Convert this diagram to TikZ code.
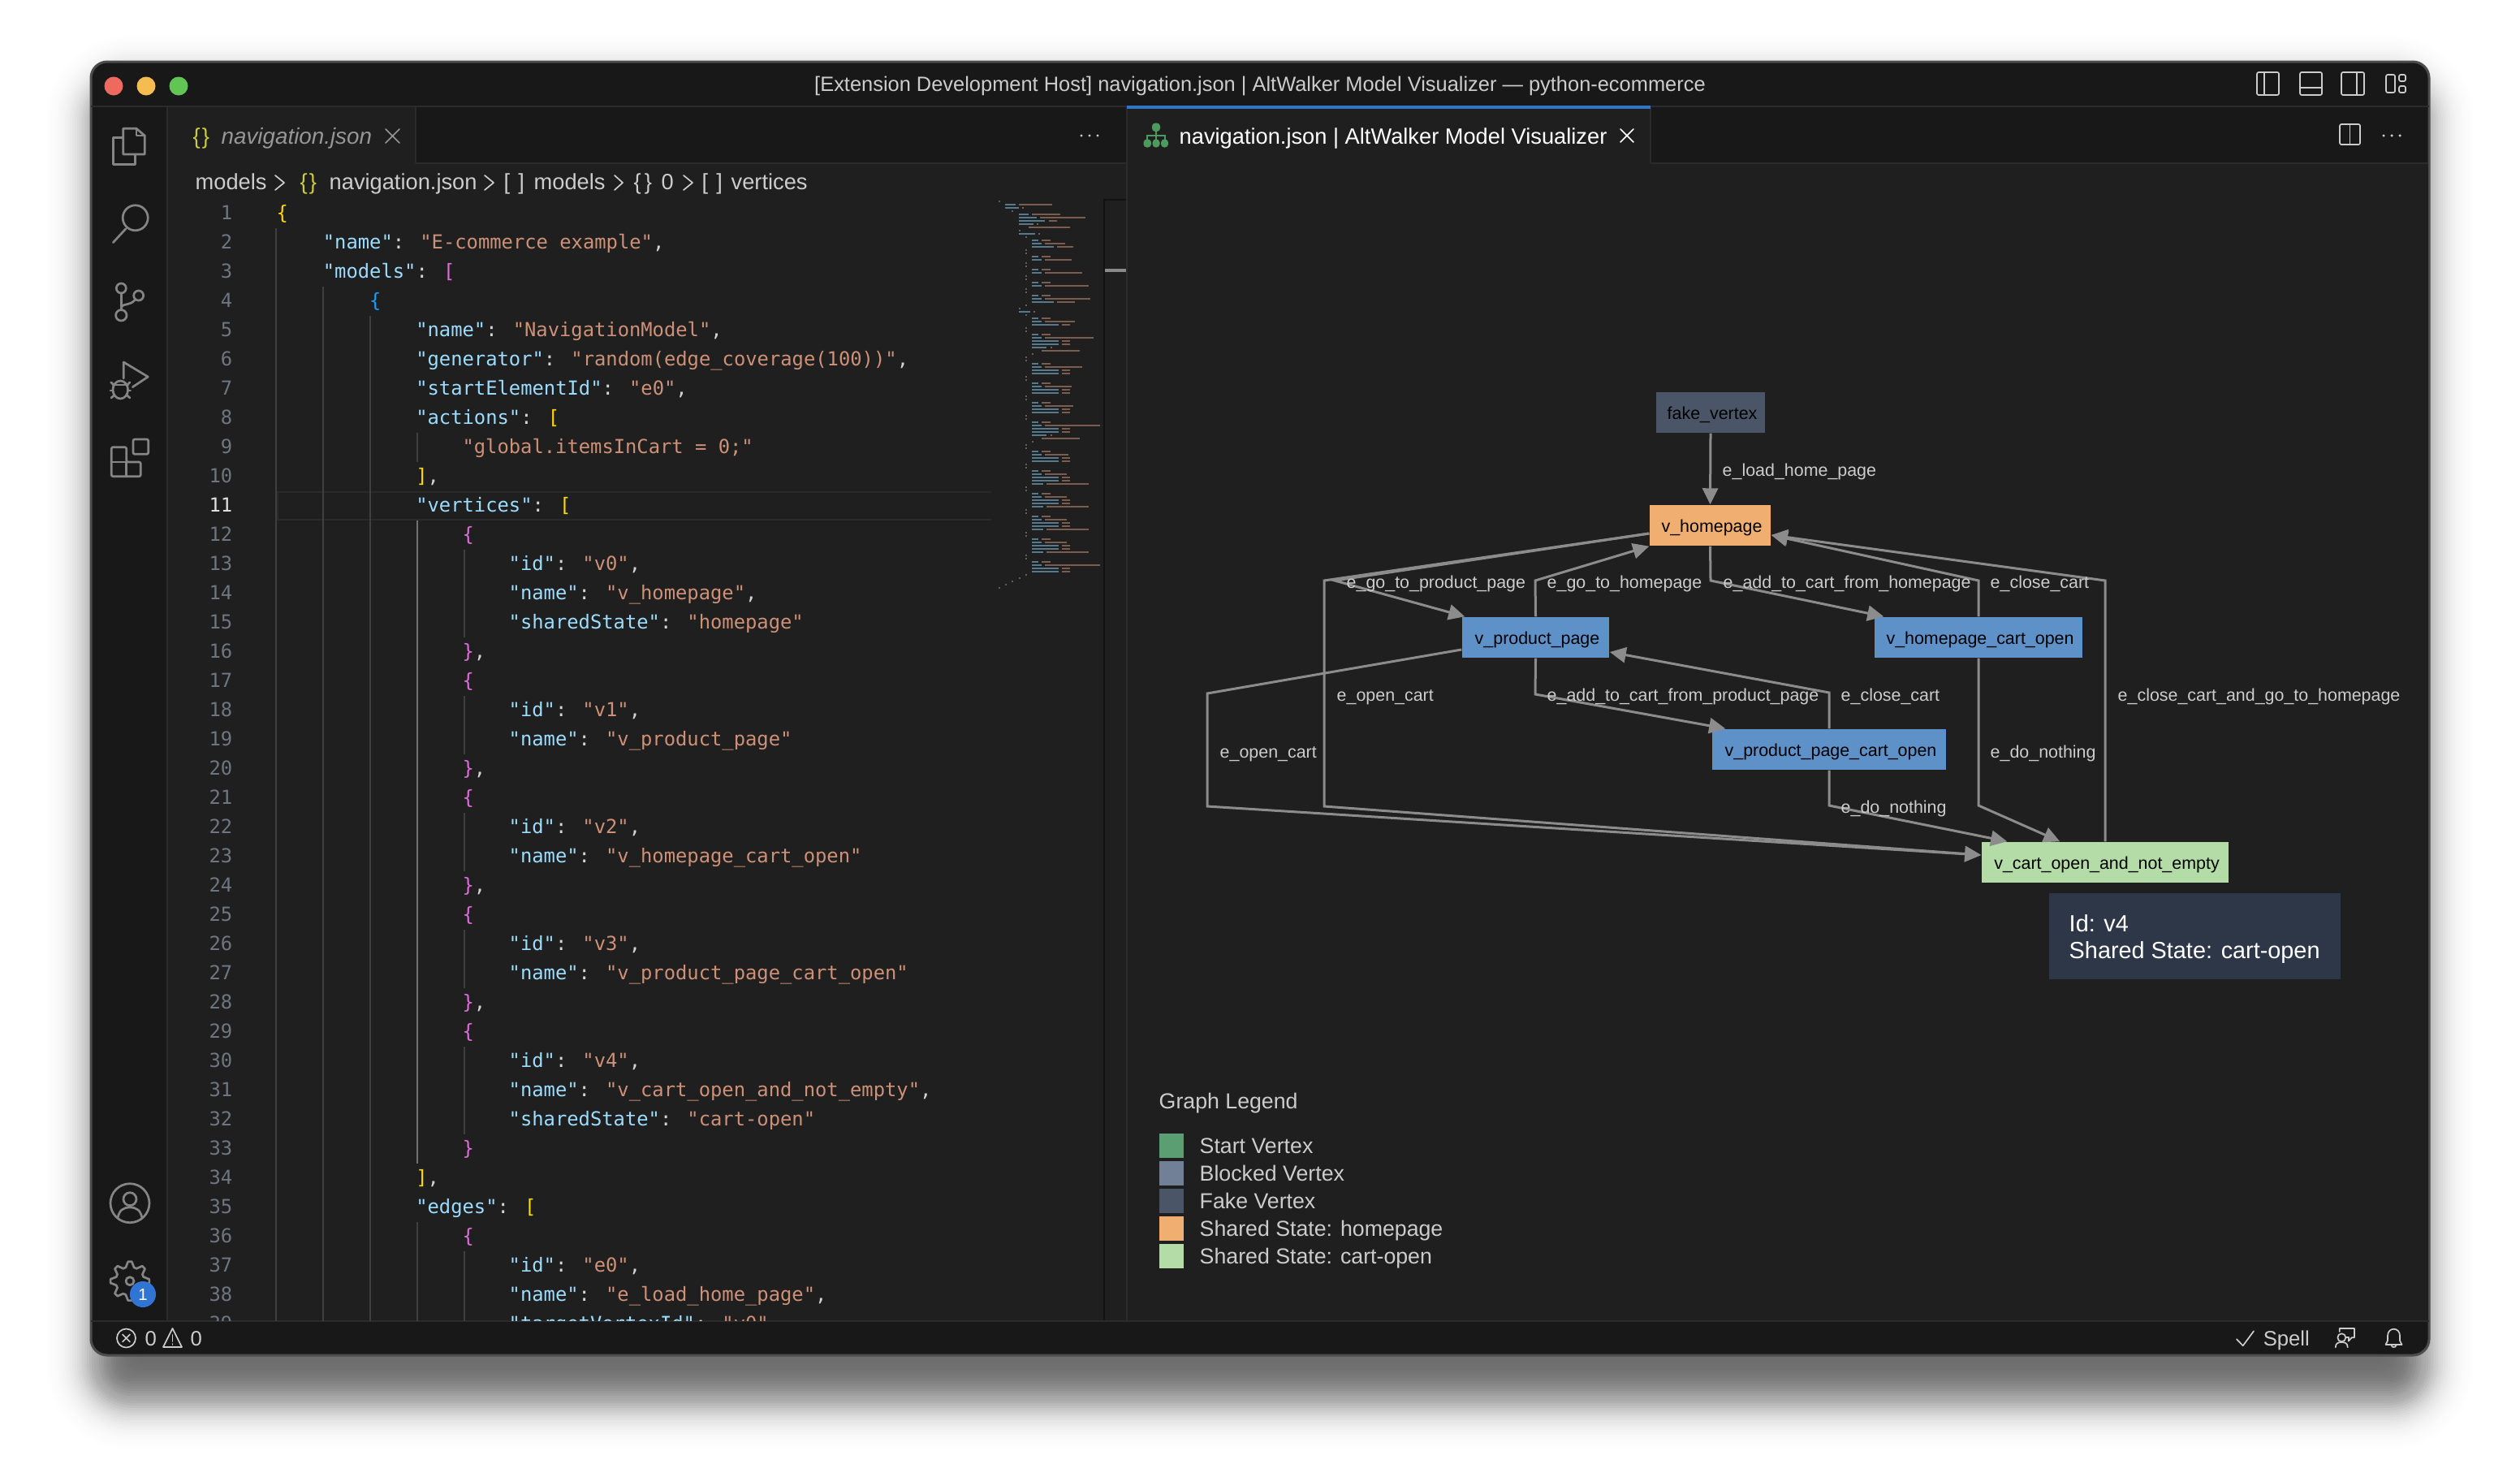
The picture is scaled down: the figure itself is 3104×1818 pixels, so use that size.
\documentclass[tikz,border=0pt]{standalone}
\usepackage{fontspec}
\setmainfont{Liberation Sans}
\newfontfamily\codefont{DejaVu Sans Mono}
\usetikzlibrary{arrows.meta,calc}
\definecolor{winbg}{HTML}{181818}
\definecolor{edbg}{HTML}{1F1F1F}
\definecolor{sepc}{HTML}{2B2B2B}
\definecolor{jkey}{HTML}{9CDCFE}
\definecolor{jstr}{HTML}{CE9178}
\definecolor{jpun}{HTML}{D4D4D4}
\definecolor{bgold}{HTML}{FFD700}
\definecolor{bpur}{HTML}{DA70D6}
\definecolor{bblu}{HTML}{179FFF}
\definecolor{lnum}{HTML}{6E7681}
\definecolor{uitxt}{HTML}{CCCCCC}
\definecolor{icong}{HTML}{858585}
\definecolor{edgec}{HTML}{8C8C8C}
\definecolor{yel}{HTML}{CBCB41}
\definecolor{nOrange}{HTML}{F0AF70}
\definecolor{nBlue}{HTML}{5F91C9}
\definecolor{nGreen}{HTML}{B3DCA6}
\definecolor{nFakeC}{HTML}{4A5568}
\definecolor{nStart}{HTML}{5A9E72}
\definecolor{nBlock}{HTML}{718096}
\definecolor{tipbg}{HTML}{2D3748}
\definecolor{cTabLine}{HTML}{2F75C9}
\definecolor{cRed}{HTML}{EE6A5F}
\definecolor{cAmb}{HTML}{F5BD4F}
\definecolor{cGrn}{HTML}{61C454}
\definecolor{cBadge}{HTML}{3075D4}
\definecolor{cTab}{HTML}{969696}
\definecolor{cTree}{HTML}{4C9A5E}
\definecolor{cHL}{HTML}{2A2A2A}
\definecolor{cG1}{HTML}{3F3F3F}
\definecolor{cG2}{HTML}{707070}
\definecolor{cNum}{HTML}{E0E0E0}
\definecolor{cBr}{HTML}{5E5E5E}
\definecolor{cMK}{HTML}{557A8E}
\definecolor{cMV}{HTML}{7A5D4E}
\definecolor{cDark}{HTML}{121212}
\definecolor{cThumb}{HTML}{8A8A8A}
\newcommand\jk[1]{{\color{jkey}#1}}
\newcommand\js[1]{{\color{jstr}#1}}
\newcommand\jp[1]{{\color{jpun}#1}}
\newcommand\jb[2]{{\color{#1}#2}}
\newcommand\vt[1]{\hspace*{0.04cm}#1}
\newcommand\cl[3]{%
  \node[codetxt] (code#1) at ({340+14.3*#2},{270+36*(#1-1)}) {#3};
  \node[lnumtxt] (num#1) at (287,{270+36*(#1-1)}) {\ifnum#1=11 \color{cNum}\fi#1};}
\tikzset{
  codetxt/.style={anchor=base west,inner sep=0pt,font=\codefont\fontsize{6.77}{8}\selectfont},
  lnumtxt/.style={anchor=base east,inner sep=0pt,text=lnum,font=\codefont\fontsize{6.77}{8}\selectfont},
  uitext/.style={anchor=base west,inner sep=0pt,text=uitxt,font=\fontsize{7.75}{9}\selectfont},
  stattxt/.style={anchor=base west,inner sep=0pt,text=uitxt,font=\fontsize{7.3}{9}\selectfont},
  elabel/.style={anchor=base west,inner sep=0pt,text=uitxt,font=\fontsize{6.09}{7}\selectfont},
  vbox/.style={rectangle,inner sep=0pt,minimum height=0.5cm,text height=0.16cm,text depth=0pt,text=black,font=\fontsize{6.09}{7}\selectfont},
  swatch/.style={rectangle,inner sep=0pt,minimum width=0.3cm,minimum height=0.3cm},
  legtxt/.style={anchor=base west,inner sep=0pt,text=uitxt,font=\fontsize{7.6}{9}\selectfont},
  tiptxt/.style={anchor=base west,inner sep=0pt,text=white,font=\fontsize{8.2}{10}\selectfont},
  edgeln/.style={draw=edgec,line width=0.03cm,line join=miter},
  arrowtip/.style={-{Triangle[length=0.2cm,width=0.19cm,fill=edgec]}},
  iconln/.style={draw=icong,line width=0.027cm,line join=round,line cap=round},
  thinicon/.style={draw=uitxt,line width=0.017cm,line join=round,line cap=round},
  sepln/.style={draw=sepc,line width=0.02cm},
  guide/.style={draw=#1,line width=0.012cm},
  mmln/.style={draw=#1,line width=0.017cm},
}
\begin{document}
\begin{tikzpicture}[x=0.01cm,y=-0.01cm]
\useasboundingbox (0,0) rectangle (3104,1818);
\fill[white] (0,0) rectangle (3104,1818);
% shadow
\foreach \d [evaluate=\d as \r using {max(20,40+\d)},evaluate=\d as \op using {0.034*exp(-(\d/40)^2)}] in {-90,-87,...,90}
  \fill[black,fill opacity=\op,rounded corners={\r*0.01cm}] ({122-\d},{109-\d}) rectangle ({2982+\d},{1719+\d});
% window
\draw[fill=winbg,draw=black!70!white,line width=0.03cm,rounded corners=0.2cm] (112,76) rectangle (2992,1669);
% panels
\fill[edbg] (206,201) rectangle (1388,1627);
\fill[edbg] (1388,201) rectangle (2991,1627);
\fill[edbg] (206,131) rectangle (512,201);
\fill[edbg] (1388,131) rectangle (2033,201);
\draw[sepln] (112,131) -- (2992,131);
\draw[sepln] (112,1627) -- (2992,1627);
\draw[sepln] (512,201) -- (1388,201);
\draw[sepln] (2033,201) -- (2991,201);
\draw[sepln] (206,131) -- (206,1627);
\draw[sepln] (512,131) -- (512,201);
\draw[sepln] (1388,131) -- (1388,1627);
\draw[sepln] (2033,131) -- (2033,201);
\fill[cTabLine] (1388,130) rectangle (2033,134);
% traffic lights
\fill[cRed] (140,106) circle (11.5*0.01cm);
\fill[cAmb] (180,106) circle (11.5*0.01cm);
\fill[cGrn] (220,106) circle (11.5*0.01cm);
\node[uitext,anchor=base,font=\fontsize{7.23}{9}\selectfont] (title) at (1552,112) {[Extension Development Host] navigation.json | AltWalker Model Visualizer — python-ecommerce};
% top-right layout icons
\draw[thinicon,rounded corners=0.02cm] (2780,89) rectangle (2807,117);
\draw[thinicon] (2789,89) -- (2789,117);
\draw[thinicon,rounded corners=0.02cm] (2833,89) rectangle (2860,117);
\draw[thinicon] (2833,108) -- (2860,108);
\draw[thinicon,rounded corners=0.02cm] (2884,89) rectangle (2912,117);
\draw[thinicon] (2903,89) -- (2903,117);
\draw[thinicon,rounded corners=0.02cm] (2939,92) rectangle (2950,114);
\draw[thinicon,rounded corners=0.02cm] (2955,92) rectangle (2963,100);
\draw[thinicon,rounded corners=0.02cm] (2955,106) rectangle (2963,114);
% activity icons
\draw[iconln] (151.7,169.3) -- (139.3,169.3) -- (139.3,202.3) -- (166.7,202.3) -- (166.7,190);
\draw[iconln] (151.7,158.3) -- (168,158.3) -- (178.3,167) -- (178.3,190) -- (151.7,190) -- cycle;
\draw[iconln] (168,158.3) -- (168,167) -- (178.3,167);
\draw[iconln] (166.7,268.3) circle (15.5*0.01cm);
\draw[iconln] (155,281.7) -- (139.3,298.7);
\draw[iconln] (149.3,355) circle (6*0.01cm);
\draw[iconln] (149.3,388.3) circle (6.7*0.01cm);
\draw[iconln] (170.7,364) circle (6*0.01cm);
\draw[iconln] (149.3,361) -- (149.3,381.7);
\draw[iconln] (149.3,378) .. controls (153,373) and (160,377) .. (166.5,369);
\draw[iconln] (152.3,466) -- (152.3,446) -- (182.3,464) -- (163.3,476.7);
\draw[iconln] (148.3,480) ellipse (9.3*0.01cm and 11*0.01cm);
\draw[iconln] (139,474) -- (157.7,474);
\draw[iconln] (136.7,470.7) -- (140,474);
\draw[iconln] (160,470.7) -- (156.7,474);
\draw[iconln] (136,481) -- (139,481);
\draw[iconln] (157.7,481) -- (160.7,481);
\draw[iconln] (137,490) -- (140.7,486.7);
\draw[iconln] (160,490) -- (156.3,486.7);
\draw[iconln,rounded corners=0.02cm] (164,541) rectangle (182.7,559.3);
\draw[iconln,rounded corners=0.02cm] (137.3,550.7) -- (155.7,550.7) -- (155.7,569) -- (173.3,569) -- (173.3,586.7) -- (137.3,586.7) -- cycle;
\draw[iconln] (137.3,569) -- (155.7,569) -- (155.7,586.7);
\draw[iconln] (160,1481.7) circle (24*0.01cm);
\draw[iconln] (160,1476.7) circle (8*0.01cm);
\draw[iconln] (145,1500) .. controls (147,1490) and (152,1487) .. (160,1487) .. controls (168,1487) and (173,1490) .. (175,1500);
\coordinate (gearc) at (160,1577.7);
\draw[iconln] ($(gearc)+(-5.6:24)$) \foreach \k [evaluate=\k as \rr using {(mod(\k,4)<2)?24:17.5}] in {1,...,31}{ -- ($(gearc)+({\k*11.25-5.6}:\rr)$) } -- cycle;
\draw[iconln] (gearc) circle (5*0.01cm);
\node[circle,fill=cBadge,inner sep=0pt,minimum size=0.32cm,text=white,font=\fontsize{5.8}{7}\selectfont] (badge) at (176,1594) {1};
% left tab
\node[uitext,text=yel] (tabicon) at (237,177) {\{\kern0.02cm\}};
\node[uitext,text=cTab,font=\fontsize{7.9}{9}\selectfont\itshape] (tabname) at (272,177) {navigation.json};
\draw[thinicon,draw=cTab] (475,159) -- (492,176) (492,159) -- (475,176);
\foreach \x in {1332,1342,1352}\fill[uitxt] (\x,167) circle (1.7*0.01cm);
% right tab
\fill[cTree,rounded corners=0.04cm] (1419,151.5) rectangle (1429,162);
\fill[cTree,rounded corners=0.04cm] (1408.5,171.5) rectangle (1418,181.5);
\fill[cTree,rounded corners=0.04cm] (1419.5,171.5) rectangle (1428.5,181.5);
\fill[cTree,rounded corners=0.04cm] (1430,171.5) rectangle (1439,181.5);
\draw[draw=cTree,line width=0.02cm] (1413,172) -- (1413,167) -- (1434.5,167) -- (1434.5,172) (1424,160) -- (1424,172);
\node[uitext,text=white] (tabviz) at (1452,177) {navigation.json | AltWalker Model Visualizer};
\draw[thinicon,draw=white] (1996,159) -- (2012,175) (2012,159) -- (1996,175);
\draw[thinicon,rounded corners=0.02cm] (2882,153) rectangle (2907,178);
\draw[thinicon] (2894.5,153) -- (2894.5,178);
\foreach \x in {2936,2946,2956}\fill[uitxt] (\x,167) circle (1.7*0.01cm);
% breadcrumbs
\node[uitext] (bc1) at (240,233) {models};
\draw[thinicon] (339,216) -- (350,225) -- (339,234);
\node[uitext,text=yel] (bc2) at (369,233) {\{\kern0.02cm\}};
\node[uitext] (bc3) at (405,233) {navigation.json};
\draw[thinicon] (597,216) -- (608,225) -- (597,234);
\node[uitext] (bc4) at (620,233) {[\kern0.1cm]};
\node[uitext] (bc5) at (657,233) {models};
\draw[thinicon] (757,216) -- (767,225) -- (757,234);
\node[uitext] (bc6) at (780,233) {\{\kern0.04cm\}};
\node[uitext] (bc7) at (814,233) {0};
\draw[thinicon] (842,216) -- (853,225) -- (842,234);
\node[uitext] (bc8) at (864,233) {[\kern0.1cm]};
\node[uitext] (bc9) at (900,233) {vertices};
% current line highlight
\draw[draw=cHL,line width=0.02cm] (1221,606) -- (342,606) -- (342,640) -- (1221,640);
% indent guides
\begin{scope}
\clip (206,202) rectangle (1360,1626);
\draw[guide=cG1] (340,281) -- (340,1627);
\draw[guide=cG1] (398,353) -- (398,1627);
\draw[guide=cG1] (456,389) -- (456,1627);
\draw[guide=cG1] (514,533) -- (514,569);
\draw[guide=cG2] (514,641) -- (514,1433);
\draw[guide=cG1] (514,1505) -- (514,1627);
\foreach \a/\b in {13/15,18/19,22/23,26/27,30/32,37/39}
  \draw[guide=cG1] (572,{245+36*(\a-1)}) -- (572,{245+36*\b});
% code
\cl{1}{0}{\jb{bgold}{\{}}
\cl{2}{4}{\jk{"name"}\jp{: }\js{"E-commerce example"}\jp{,}}
\cl{3}{4}{\jk{"models"}\jp{: }\jb{bpur}{[}}
\cl{4}{8}{\jb{bblu}{\{}}
\cl{5}{12}{\jk{"name"}\jp{: }\js{"NavigationModel"}\jp{,}}
\cl{6}{12}{\jk{"generator"}\jp{: }\js{"random(edge\_coverage(100))"}\jp{,}}
\cl{7}{12}{\jk{"startElementId"}\jp{: }\js{"e0"}\jp{,}}
\cl{8}{12}{\jk{"actions"}\jp{: }\jb{bgold}{[}}
\cl{9}{16}{\js{"global.itemsInCart = 0;"}}
\cl{10}{12}{\jb{bgold}{]}\jp{,}}
\cl{11}{12}{\jk{"vertices"}\jp{: }\jb{bgold}{[}}
\cl{12}{16}{\jb{bpur}{\{}}
\cl{13}{20}{\jk{"id"}\jp{: }\js{"v0"}\jp{,}}
\cl{14}{20}{\jk{"name"}\jp{: }\js{"v\_homepage"}\jp{,}}
\cl{15}{20}{\jk{"sharedState"}\jp{: }\js{"homepage"}}
\cl{16}{16}{\jb{bpur}{\}}\jp{,}}
\cl{17}{16}{\jb{bpur}{\{}}
\cl{18}{20}{\jk{"id"}\jp{: }\js{"v1"}\jp{,}}
\cl{19}{20}{\jk{"name"}\jp{: }\js{"v\_product\_page"}}
\cl{20}{16}{\jb{bpur}{\}}\jp{,}}
\cl{21}{16}{\jb{bpur}{\{}}
\cl{22}{20}{\jk{"id"}\jp{: }\js{"v2"}\jp{,}}
\cl{23}{20}{\jk{"name"}\jp{: }\js{"v\_homepage\_cart\_open"}}
\cl{24}{16}{\jb{bpur}{\}}\jp{,}}
\cl{25}{16}{\jb{bpur}{\{}}
\cl{26}{20}{\jk{"id"}\jp{: }\js{"v3"}\jp{,}}
\cl{27}{20}{\jk{"name"}\jp{: }\js{"v\_product\_page\_cart\_open"}}
\cl{28}{16}{\jb{bpur}{\}}\jp{,}}
\cl{29}{16}{\jb{bpur}{\{}}
\cl{30}{20}{\jk{"id"}\jp{: }\js{"v4"}\jp{,}}
\cl{31}{20}{\jk{"name"}\jp{: }\js{"v\_cart\_open\_and\_not\_empty"}\jp{,}}
\cl{32}{20}{\jk{"sharedState"}\jp{: }\js{"cart-open"}}
\cl{33}{16}{\jb{bpur}{\}}}
\cl{34}{12}{\jb{bgold}{]}\jp{,}}
\cl{35}{12}{\jk{"edges"}\jp{: }\jb{bgold}{[}}
\cl{36}{16}{\jb{bpur}{\{}}
\cl{37}{20}{\jk{"id"}\jp{: }\js{"e0"}\jp{,}}
\cl{38}{20}{\jk{"name"}\jp{: }\js{"e\_load\_home\_page"}\jp{,}}
\cl{39}{20}{\jk{"targetVertexId"}\jp{: }\js{"v0"}\jp{,}}
\end{scope}
% minimap
\foreach \n/\c in {1/0,4/8,10/12,12/16,16/16,17/16,20/16,21/16,24/16,25/16,28/16,29/16,33/16,34/12,36/16,40/16,41/16,48/20,49/16,50/16,55/16,56/16,61/16,62/16,67/16,68/16,75/20,76/16,77/16,82/16,83/16,89/16,90/16,96/16,97/16,103/16,104/16,110/16,111/16,116/16,117/12,118/8,119/4,120/0}
  \draw[mmln=cBr] ({1230+2.05*\c},{248+4*(\n-1)}) -- ({1232+2.05*\c},{248+4*(\n-1)});
\foreach \n/\c/\k/\v in {2/4/6/20,3/4/8/1,5/12/6/17,6/12/11/27,7/12/16/5,8/12/9/1,9/16/0/25,11/12/10/1,13/20/4/5,14/20/6/12,15/20/13/10,18/20/4/5,19/20/6/16,22/20/4/5,23/20/6/22,26/20/4/5,27/20/6/26,30/20/4/5,31/20/6/27,32/20/13/11,35/12/7/1,37/20/4/5,38/20/6/18,39/20/16/5,42/20/4/5,43/20/6/29,44/20/16/5,45/20/16/5,46/20/9/1,47/24/0/23,51/20/4/5,52/20/6/22,53/20/16/5,54/20/16/5,57/20/4/5,58/20/6/16,59/20/16/5,60/20/16/5,63/20/4/5,64/20/6/17,65/20/16/5,66/20/16/5,69/20/4/5,70/20/6/33,71/20/16/5,72/20/16/5,73/20/9/1,74/24/0/23,78/20/4/5,79/20/6/14,80/20/16/5,81/20/16/5,84/20/4/5,85/20/6/13,86/20/16/5,87/20/16/5,88/20/7/25,91/20/4/5,92/20/6/13,93/20/16/5,94/20/16/5,95/20/7/25,98/20/4/5,99/20/6/13,100/20/16/5,101/20/16/5,102/20/7/25,105/20/4/5,106/20/6/13,107/20/16/5,108/20/16/5,109/20/7/25,112/20/4/5,113/20/6/33,114/20/16/5,115/20/16/5}{
  \draw[mmln=cMK] ({1230+2.05*\c},{248+4*(\n-1)}) -- ({1230+2.05*(\c+\k)},{248+4*(\n-1)});
  \draw[mmln=cMV] ({1230+2.05*(\c+\k+2)},{248+4*(\n-1)}) -- ({1230+2.05*(\c+\k+2+\v)},{248+4*(\n-1)});
}
\draw[draw=cDark,line width=0.015cm] (1387,246) -- (1360,246) -- (1360,1626);
\fill[cThumb] (1361,331) rectangle (1387,335);
% graph nodes
\node[vbox,fill=nFakeC,minimum width=1.34cm] (nFake) at (2107,508) {\vt{fake\_vertex}};
\node[vbox,fill=nOrange,minimum width=1.49cm] (nHome) at (2106.5,647) {\vt{v\_homepage}};
\node[vbox,fill=nBlue,minimum width=1.81cm] (nProd) at (1891.5,785) {\vt{v\_product\_page}};
\node[vbox,fill=nBlue,minimum width=2.56cm] (nHomeCart) at (2437,785) {\vt{v\_homepage\_cart\_open}};
\node[vbox,fill=nBlue,minimum width=2.88cm] (nProdCart) at (2253,923) {\vt{v\_product\_page\_cart\_open}};
\node[vbox,fill=nGreen,minimum width=3.04cm] (nCart) at (2593,1062) {\vt{v\_cart\_open\_and\_not\_empty}};
% edges
\draw[edgeln,arrowtip] (nFake.south) -- (nHome.north);
\draw[edgeln,arrowtip] ($(nHome.west)+(0,10)$) -- (1644,715) -- ($(nProd.north west)+(4,0)$);
\draw[edgeln,arrowtip] (nProd.north) -- (1891,715) -- (nHome.south west);
\draw[edgeln,arrowtip] (nHome.south) -- (2107,715) -- ($(nHomeCart.north west)+(12,0)$);
\draw[edgeln,arrowtip] (nHomeCart.north) -- (2437,715) -- ($(nHome.east)+(0,12)$);
\draw[edgeln,arrowtip] (nCart.north) -- (2593,715) -- ($(nHome.east)+(0,12)$);
\draw[edgeln,arrowtip] ($(nHome.west)+(0,10)$) -- (1631,715) -- (1631,993) -- ($(nCart.west)+(0,-9)$);
\draw[edgeln,arrowtip] ($(nProd.west)+(0,15)$) -- (1487,854) -- (1487,993) -- ($(nCart.west)+(0,-9)$);
\draw[edgeln,arrowtip] (nProd.south) -- (1891,855) -- ($(nProdCart.north west)+(17,0)$);
\draw[edgeln,arrowtip] (nProdCart.north) -- (2253,853) -- ($(nProd.east)+(0,18)$);
\draw[edgeln,arrowtip] (nProdCart.south) -- (2253,992) -- ($(nCart.north west)+(32,0)$);
\draw[edgeln,arrowtip] (nHomeCart.south) -- (2437,992) -- ($(nCart.north west)+(97,0)$);
% edge labels
\node[elabel] (l1) at (2121,586) {e\_load\_home\_page};
\node[elabel] (l2) at (1658,724) {e\_go\_to\_product\_page};
\node[elabel] (l3) at (1905,724) {e\_go\_to\_homepage};
\node[elabel] (l4) at (2122,724) {e\_add\_to\_cart\_from\_homepage};
\node[elabel] (l5) at (2451,724) {e\_close\_cart};
\node[elabel] (l6) at (1646,863) {e\_open\_cart};
\node[elabel] (l7) at (1905,863) {e\_add\_to\_cart\_from\_product\_page};
\node[elabel] (l8) at (2267,863) {e\_close\_cart};
\node[elabel] (l9) at (2608,863) {e\_close\_cart\_and\_go\_to\_homepage};
\node[elabel] (l10) at (1502,933) {e\_open\_cart};
\node[elabel] (l11) at (2451,933) {e\_do\_nothing};
\node[elabel] (l12) at (2267,1001) {e\_do\_nothing};
% tooltip
\node[rectangle,fill=tipbg,inner sep=0pt,minimum width=3.59cm,minimum height=1.06cm] (tipbox) at (2703.5,1153) {};
\node[tiptxt] (tip1) at (2548,1147) {Id: v4};
\node[tiptxt] (tip2) at (2548,1180) {Shared State: cart-open};
% legend
\node[legtxt] (lg0) at (1427,1365) {Graph Legend};
\node[swatch,fill=nStart] (s1) at (1443,1411) {};
\node[swatch,fill=nBlock] (s2) at (1443,1445) {};
\node[swatch,fill=nFakeC] (s3) at (1443,1479) {};
\node[swatch,fill=nOrange] (s4) at (1443,1513) {};
\node[swatch,fill=nGreen] (s5) at (1443,1547) {};
\node[legtxt] (t1) at (1477,1420) {Start Vertex};
\node[legtxt] (t2) at (1477,1454) {Blocked Vertex};
\node[legtxt] (t3) at (1477,1488) {Fake Vertex};
\node[legtxt] (t4) at (1477,1522) {Shared State: homepage};
\node[legtxt] (t5) at (1477,1556) {Shared State: cart-open};
% status bar left
\draw[thinicon] (155.5,1648) circle (11.5*0.01cm);
\draw[thinicon] (151,1643.5) -- (160,1652.5) (160,1643.5) -- (151,1652.5);
\node[stattxt] (st0) at (178,1657) {0};
\draw[thinicon] (212.5,1636) -- (224,1659) -- (201,1659) -- cycle;
\draw[thinicon] (212.5,1644) -- (212.5,1652) (212.5,1655) -- (212.5,1656);
\node[stattxt] (st1) at (234,1657) {0};
% status bar right
\draw[thinicon] (2755,1649.3) -- (2762.7,1657.3) -- (2776,1639.3);
\node[stattxt] (spell) at (2787,1657) {Spell};
\draw[thinicon] (2884.3,1647.3) circle (5*0.01cm);
\draw[thinicon] (2876.7,1659.3) .. controls (2877,1654) and (2880,1653) .. (2884.3,1653) .. controls (2888.5,1653) and (2891.5,1654) .. (2891.7,1659.3);
\draw[thinicon] (2881.7,1640) -- (2881.7,1636) -- (2900,1636) -- (2900,1647.3) -- (2896.7,1647.3) -- (2892.7,1651.7) -- (2893,1647) -- (2890,1647);
\draw[thinicon] (2938.5,1656) -- (2941,1651) -- (2941,1645) .. controls (2941,1634) and (2956,1634) .. (2956,1645) -- (2956,1651) -- (2958.5,1656) -- cycle;
\draw[thinicon] (2945.5,1656.5) .. controls (2946,1660) and (2951,1660) .. (2951.5,1656.5);
\end{tikzpicture}
\end{document}
